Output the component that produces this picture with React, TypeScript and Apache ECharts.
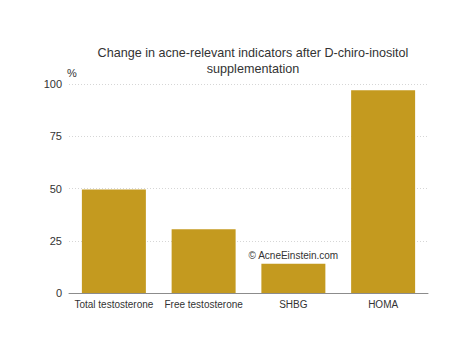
import React, { useEffect, useRef } from "react";
import * as echarts from "echarts";

const titleText = "Change in acne-relevant indicators after D-chiro-inositol\nsupplementation";
const categories = ["Total testosterone", "Free testosterone", "SHBG", "HOMA"];
const values = [49.5, 30.5, 14, 97];
const yTicks = [0, 25, 50, 75, 100];
const watermark = "© AcneEinstein.com";
const watermarkIndex = 2;

const FONT = "'Liberation Sans', 'Helvetica Neue', Arial, sans-serif";

export default function App() {
  const ref = useRef<HTMLDivElement>(null);
  useEffect(() => {
    if (!ref.current) return;
    const chart = echarts.init(ref.current, undefined, { renderer: "svg" });
    chart.setOption({
      animation: false,
      backgroundColor: "#ffffff",
      textStyle: { fontFamily: FONT },
      title: {
        text: titleText,
        left: 248,
        top: 40,
        textAlign: "center",
        textStyle: {
          fontFamily: FONT,
          fontSize: 12.6,
          fontWeight: "normal",
          color: "#333333",
          lineHeight: 16,
        },
      },
      grid: { left: 69, right: 46, top: 84, bottom: 62, containLabel: false },
      xAxis: {
        type: "category",
        data: categories,
        axisLine: { show: true, lineStyle: { color: "#8c8c8c", width: 1 } },
        axisTick: { show: false },
        axisLabel: { color: "#333333", fontSize: 10, fontFamily: FONT, margin: 6, interval: 0 },
      },
      yAxis: {
        type: "value",
        min: yTicks[0],
        max: yTicks[yTicks.length - 1],
        interval: 25,
        name: "%",
        nameLocation: "end",
        nameGap: -5,
        nameTextStyle: {
          color: "#333333",
          fontSize: 11,
          fontFamily: FONT,
          align: "left",
          padding: [0, 0, 0, -2],
        },
        axisLine: { show: false },
        axisTick: { show: false },
        axisLabel: { color: "#333333", fontSize: 11, fontFamily: FONT, margin: 7 },
        splitLine: { show: true, lineStyle: { color: "#d6d6d6", type: [1, 2], width: 1 } },
      },
      series: [
        {
          type: "bar",
          data: values.map((v, i) =>
            i === watermarkIndex
              ? {
                  value: v,
                  label: {
                    show: true,
                    position: "top",
                    distance: 3,
                    formatter: watermark,
                    color: "#333333",
                    fontSize: 10,
                    fontFamily: FONT,
                  },
                }
              : v
          ),
          barCategoryGap: "28.7%",
          itemStyle: { color: "#C49A1F" },
        },
      ],
    });
    return () => chart.dispose();
  }, []);
  return <div ref={ref} style={{ width: 474, height: 355, position: "absolute", left: 0, top: 0 }} />;
}
